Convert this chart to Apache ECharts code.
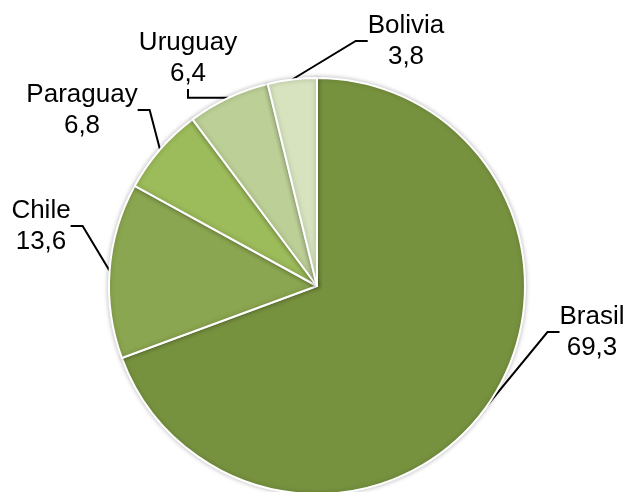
<!DOCTYPE html>
<html><head><meta charset="utf-8">
<script src="https://cdn.jsdelivr.net/npm/echarts@6/dist/echarts.min.js"></script>
<style>html,body{margin:0;padding:0;background:#fff}#c{width:626px;height:492px}</style>
</head><body><div id="c"></div>
<script>
const categories = ['Brasil', 'Chile', 'Paraguay', 'Uruguay', 'Bolivia'];
const values = [69.3, 13.6, 6.8, 6.4, 3.8];
const colors = ['#77923F', '#8BA650', '#9CBB5A', '#BCCF96', '#D6E3BE'];
const labelPos = [[592, 332], [41, 226], [82, 110], [188, 58], [406, 41]];

const chart = echarts.init(document.getElementById('c'), null, {renderer: 'canvas'});
chart.setOption({
  animation: false,
  series: [{
    type: 'pie',
    center: [317, 286],
    radius: [0, 208],
    startAngle: 90,
    clockwise: true,
    data: categories.map((c, i) => ({name: c, value: values[i], itemStyle: {color: colors[i]}})),
    itemStyle: {borderColor: '#fff', borderWidth: 2, shadowBlur: 5, shadowColor: 'rgba(0,0,0,0.25)'},
    label: {
      show: true,
      position: 'outside',
      formatter: p => p.name + '\n' + String(p.value).replace('.', ','),
      fontFamily: 'Liberation Sans, Arial, sans-serif',
      fontSize: 26,
      lineHeight: 31,
      color: '#000',
      align: 'center',
      overflow: 'none'
    },
    labelLine: {show: true, length: 20, length2: 12, lineStyle: {color: '#000', width: 2}},
    labelLayout: p => ({x: labelPos[p.dataIndex][0], y: labelPos[p.dataIndex][1], align: 'center', verticalAlign: 'middle'}),
    emphasis: {disabled: true}
  }]
});
</script></body></html>
